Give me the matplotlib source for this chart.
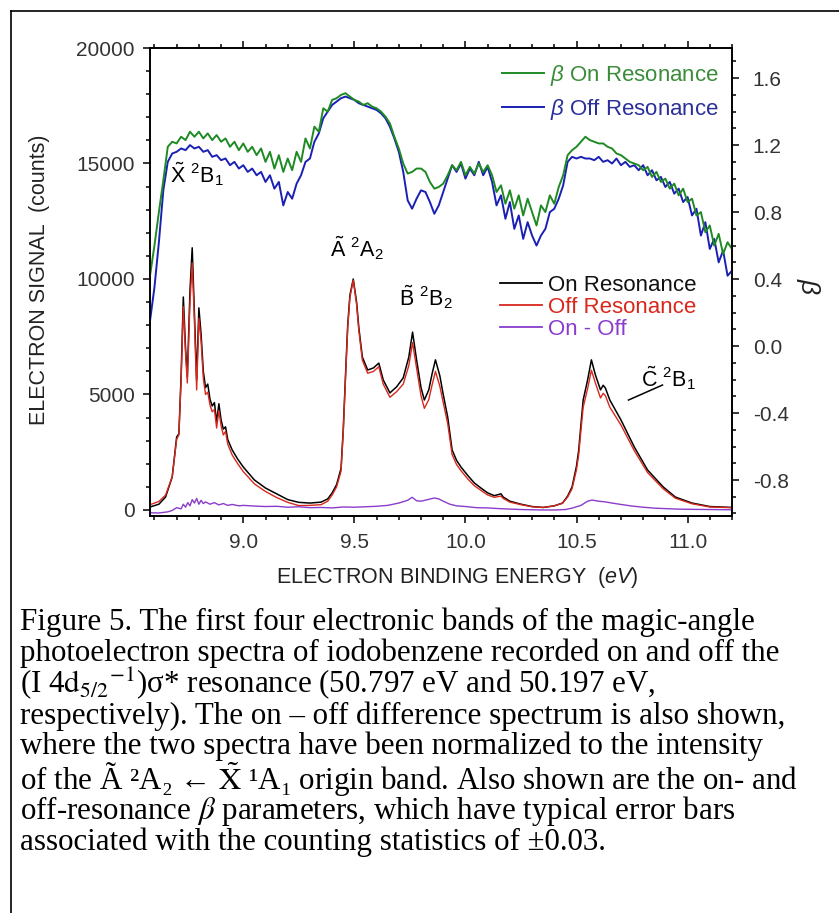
import numpy as np
import matplotlib
matplotlib.use('Agg')
import matplotlib.pyplot as plt
from matplotlib.lines import Line2D
from matplotlib.ticker import MultipleLocator

plt.rcParams['font.family'] = ['Liberation Sans', 'DejaVu Sans']
plt.rcParams['mathtext.fontset'] = 'custom'
plt.rcParams['mathtext.rm'] = 'Liberation Sans'
plt.rcParams['mathtext.it'] = 'Liberation Sans:italic'
plt.rcParams['mathtext.bf'] = 'Liberation Sans:bold'
plt.rcParams['axes.unicode_minus'] = False

# magic-angle spectra (counts)
energy = [8.58, 8.62, 8.65, 8.68, 8.70, 8.71, 8.72, 8.73, 8.74, 8.748,
          8.76, 8.77, 8.78, 8.79, 8.80, 8.81, 8.82, 8.83, 8.84, 8.85,
          8.86, 8.87, 8.88, 8.89, 8.90, 8.91, 8.92, 8.93, 8.95, 8.975,
          9.00, 9.05, 9.10, 9.15, 9.20, 9.25, 9.30, 9.35, 9.38, 9.40,
          9.42, 9.44, 9.45, 9.46, 9.47, 9.48, 9.495, 9.51, 9.52, 9.536,
          9.56, 9.586, 9.61, 9.63, 9.66, 9.69, 9.72, 9.745, 9.762, 9.78,
          9.80, 9.815, 9.835, 9.85, 9.865, 9.885, 9.90, 9.92, 9.94, 9.96,
          9.98, 10.01, 10.04, 10.07, 10.10, 10.13, 10.16, 10.17, 10.20, 10.25,
          10.30, 10.35, 10.40, 10.437, 10.46, 10.48, 10.50, 10.51, 10.52, 10.53,
          10.55, 10.567, 10.585, 10.608, 10.62, 10.63, 10.65, 10.70, 10.76, 10.82,
          10.89, 10.945, 11.02, 11.10, 11.20]
on_res = [130, 250, 560, 1430, 3160, 3300, 5800, 9220, 7000, 5760,
          9500, 11350, 8500, 5630, 8750, 7600, 6000, 5300, 5450, 4800,
          4500, 4650, 3800, 4600, 3900, 3500, 3600, 3050, 2600, 2200,
          1860, 1300, 950, 700, 450, 330, 300, 340, 480, 740,
          1100, 1800, 3500, 5800, 8000, 9300, 10000, 9000, 7900, 6620,
          6060, 6150, 6360, 5630, 5070, 5330, 5720, 6620, 7700, 6500,
          5300, 4760, 5200, 5900, 6500, 5800, 5000, 4030, 2600, 2150,
          1860, 1500, 1170, 950, 740, 620, 700, 560, 380, 250,
          150, 110, 180, 300, 600, 1000, 1900, 2600, 3700, 4760,
          5630, 6500, 5850, 5200, 5400, 5280, 4760, 3900, 2730, 1730,
          1000, 560, 300, 150, 110]
off_res = [230, 370, 640, 1440, 3060, 3250, 5600, 8800, 6800, 5500,
           9000, 10700, 8200, 5200, 8300, 7300, 5700, 5000, 5100, 4550,
           4250, 4350, 3550, 4300, 3650, 3250, 3400, 2850, 2380, 2000,
           1660, 1130, 800, 540, 330, 190, 200, 230, 380, 650,
           1000, 1680, 3380, 5680, 7880, 9200, 9950, 8900, 7780, 6480,
           5920, 6000, 6200, 5450, 4880, 5120, 5450, 6250, 7250, 6150,
           4950, 4400, 4780, 5420, 6000, 5350, 4650, 3750, 2400, 1970,
           1700, 1350, 1050, 850, 650, 550, 600, 500, 340, 230,
           140, 110, 180, 290, 560, 920, 1750, 2400, 3450, 4450,
           5250, 6050, 5500, 4850, 5050, 4950, 4450, 3680, 2570, 1620,
           920, 510, 270, 130, 100]

diff_energy = [8.58, 8.62, 8.66, 8.68, 8.70, 8.72, 8.73, 8.74, 8.75, 8.76,
               8.77, 8.78, 8.79, 8.80, 8.81, 8.82, 8.83, 8.85, 8.87, 8.89,
               8.91, 8.93, 8.95, 8.98, 9.00, 9.05, 9.10, 9.15, 9.20, 9.25,
               9.30, 9.35, 9.40, 9.45, 9.50, 9.55, 9.60, 9.65, 9.70, 9.74,
               9.76, 9.78, 9.80, 9.83, 9.86, 9.88, 9.90, 9.93, 9.96, 10.00,
               10.05, 10.10, 10.15, 10.20, 10.25, 10.30, 10.35, 10.40, 10.45, 10.48,
               10.52, 10.55, 10.57, 10.60, 10.63, 10.66, 10.70, 10.75, 10.80, 10.85,
               10.90, 10.95, 11.00, 11.10, 11.20]
on_minus_off = [-120, -130, -80, -20, 100, 50, 250, 120, 320, 180,
                450, 300, 500, 250, 420, 280, 350, 250, 320, 220,
                280, 200, 240, 180, 200, 170, 150, 160, 120, 140,
                100, 110, 90, 130, 120, 140, 160, 200, 300, 420,
                550, 400, 380, 450, 520, 480, 380, 250, 180, 150,
                100, 90, 60, 40, 20, 10, 0, 0, 20, 80,
                200, 380, 430, 380, 350, 300, 240, 170, 120, 80,
                60, 40, 30, 20, 10]

# beta parameters on a 0.02 eV grid from 8.58 to 11.20 eV
beta_energy = np.linspace(8.58, 11.20, 132)
beta_on = [0.42, 0.60, 0.80, 0.99, 1.19, 1.22, 1.21, 1.25, 1.23, 1.28,
           1.25, 1.28, 1.24, 1.27, 1.23, 1.26, 1.22, 1.24, 1.19, 1.22,
           1.17, 1.21, 1.16, 1.19, 1.14, 1.18, 1.10, 1.16, 1.06, 1.14,
           1.04, 1.12, 1.05, 1.16, 1.10, 1.24, 1.18, 1.31, 1.28, 1.42,
           1.40, 1.47, 1.48, 1.50, 1.51, 1.49, 1.47, 1.46, 1.44, 1.45,
           1.43, 1.42, 1.40, 1.37, 1.33, 1.25, 1.18, 1.09, 1.03, 1.04,
           1.06, 1.06, 1.04, 0.98, 0.94, 0.95, 0.97, 1.02, 1.08, 1.05,
           1.10, 1.02, 1.07, 1.03, 1.09, 1.04, 1.08, 1.02, 0.92, 0.96,
           0.85, 0.93, 0.82, 0.90, 0.78, 0.88, 0.80, 0.72, 0.84, 0.80,
           0.90, 0.85, 0.95, 1.02, 1.14, 1.17, 1.19, 1.22, 1.25, 1.23,
           1.22, 1.21, 1.21, 1.19, 1.18, 1.15, 1.14, 1.12, 1.10, 1.09,
           1.08, 1.05, 1.07, 1.01, 1.04, 0.98, 1.00, 0.94, 0.97, 0.90,
           0.94, 0.86, 0.88, 0.78, 0.80, 0.68, 0.72, 0.60, 0.67, 0.55,
           0.62, 0.58]
beta_off = [0.15, 0.35, 0.62, 0.93, 1.10, 1.15, 1.16, 1.18, 1.17, 1.20,
            1.18, 1.19, 1.16, 1.17, 1.13, 1.14, 1.11, 1.12, 1.08, 1.10,
            1.06, 1.08, 1.04, 1.06, 1.02, 1.04, 0.98, 1.02, 0.94, 0.98,
            0.84, 0.92, 0.88, 0.97, 1.02, 1.10, 1.12, 1.22, 1.27, 1.36,
            1.40, 1.44, 1.46, 1.48, 1.49, 1.48, 1.47, 1.45, 1.44, 1.43,
            1.42, 1.41, 1.39, 1.36, 1.31, 1.24, 1.16, 1.04, 0.87, 0.82,
            0.88, 0.93, 0.92, 0.86, 0.79, 0.84, 0.92, 1.00, 1.08, 1.04,
            1.09, 1.00, 1.06, 1.02, 1.10, 1.02, 1.07, 0.98, 0.84, 0.90,
            0.76, 0.86, 0.70, 0.78, 0.64, 0.74, 0.66, 0.60, 0.66, 0.70,
            0.80, 0.82, 0.88, 0.96, 1.10, 1.13, 1.12, 1.13, 1.12, 1.12,
            1.11, 1.13, 1.10, 1.11, 1.09, 1.12, 1.08, 1.10, 1.07, 1.08,
            1.05, 1.08, 1.02, 1.05, 0.99, 1.01, 0.95, 0.98, 0.91, 0.94,
            0.86, 0.89, 0.78, 0.82, 0.66, 0.74, 0.58, 0.64, 0.50, 0.57,
            0.42, 0.45]

caption = [
    "Figure 5. The first four electronic bands of the magic-angle",
    "photoelectron spectra of iodobenzene recorded on and off the",
    r"(I 4$\mathrm{d}_{5/2}{}^{-1}$)σ* resonance (50.797 eV and 50.197 eV,",
    "respectively). The on \u2013 off difference spectrum is also shown,",
    "where the two spectra have been normalized to the intensity",
    "of the \u00c3 \u00b2A\u2082 \u2190 " + r"$\tilde{\mathrm{X}}$" + " \u00b9A\u2081 origin band. Also shown are the on- and",
    r"off-resonance $\beta$ parameters, which have typical error bars",
    "associated with the counting statistics of \u00b10.03.",
]
caption_baselines = [630, 661, 693, 724, 754, 789, 819, 850]

W, H = 839, 913
fig = plt.figure(figsize=(W / 100, H / 100), dpi=100)
ax = fig.add_axes([150 / W, 1 - 516 / H, 582 / W, 468 / H])

ax.plot(energy, on_res, color='black', lw=1.1, zorder=2)
ax.plot(energy, off_res, color='#d8281c', lw=1.0, zorder=3)
ax.plot(diff_energy, on_minus_off, color='#8b3ccc', lw=1.0, zorder=4)

ax2 = ax.twinx()
hb_off, = ax2.plot(beta_energy, beta_off, color='#1a20b4', lw=1.4)
hb_on, = ax2.plot(beta_energy, beta_on, color='#1f8a24', lw=1.4)

ax.set_xlim(8.58, 11.2)
ax.set_ylim(-260, 20000)
ax2.set_ylim(-1.015, 1.78)

ax.xaxis.set_major_locator(MultipleLocator(0.5))
ax.xaxis.set_minor_locator(MultipleLocator(0.1))
ax.yaxis.set_major_locator(MultipleLocator(5000))
ax.yaxis.set_minor_locator(MultipleLocator(1000))
ax2.yaxis.set_major_locator(MultipleLocator(0.4))
ax2.yaxis.set_minor_locator(MultipleLocator(0.1))

tick_col = '#333333'
ax.tick_params(axis='x', which='both', direction='out', top=True, labelsize=15,
               labelcolor=tick_col, pad=7)
ax.tick_params(axis='y', which='both', direction='out', right=False, labelsize=15,
               labelcolor=tick_col, pad=6)
ax2.tick_params(axis='y', which='both', direction='out', labelsize=15,
                labelcolor=tick_col, pad=10)
for a in (ax, ax2):
    a.tick_params(which='major', length=5, width=1.1)
    a.tick_params(which='minor', length=3, width=1.1)
    for s in a.spines.values():
        s.set_linewidth(1.2)

# band labels
lab_fs = 15.5
ax.text(8.67, 14550, r'$\tilde{\mathrm{X}}\ {}^{2}\mathrm{B}_{1}$', fontsize=lab_fs, va='center')
ax.text(9.39, 11350, r'$\tilde{\mathrm{A}}\ {}^{2}\mathrm{A}_{2}$', fontsize=lab_fs, va='center')
ax.text(9.70, 9220, r'$\tilde{\mathrm{B}}\ {}^{2}\mathrm{B}_{2}$', fontsize=lab_fs, va='center')
ax.text(10.79, 5720, r'$\tilde{\mathrm{C}}\ {}^{2}\mathrm{B}_{1}$', fontsize=lab_fs, va='center')
ax.plot([10.734, 10.887], [4760, 5410], color='black', lw=1.1)

leg1 = ax2.legend([hb_on, hb_off], [r'$\beta$ On Resonance', r'$\beta$ Off Resonance'],
                  loc='upper left', bbox_to_anchor=(0.605, 0.968), frameon=False,
                  fontsize=16, handlelength=1.9, handletextpad=0.25, labelspacing=0.4,
                  borderpad=0, borderaxespad=0, labelcolor=['#3a8c3a', '#2a2f9a'])
ax2.add_artist(leg1)
h_on = Line2D([], [], color='black', lw=1.3)
h_off = Line2D([], [], color='#d8281c', lw=1.3)
h_diff = Line2D([], [], color='#8b3ccc', lw=1.3)
ax2.legend([h_on, h_off, h_diff], ['On Resonance', 'Off Resonance', 'On - Off'],
           loc='upper left', bbox_to_anchor=(0.601, 0.515), frameon=False,
           fontsize=16, handlelength=1.9, handletextpad=0.25, labelspacing=0.05,
           borderpad=0, borderaxespad=0, labelcolor=['#111111', '#d8281c', '#8b3ccc'])

fig.text(40 / W, 1 - 280 / H, 'ELECTRON SIGNAL  (counts)', rotation=90,
         ha='center', va='center', fontsize=15.5, color='#222222')
fig.text(457 / W, 1 - 577 / H, r'ELECTRON BINDING ENERGY  ($\mathit{eV}$)',
         ha='center', va='center', fontsize=15.5, color='#222222')
fig.text(808 / W, 1 - 287 / H, r'$\beta$', rotation=270, ha='center', va='center',
         fontsize=19, color='#222222')

# caption, one text per line, placed by baseline
for line, yb in zip(caption, caption_baselines):
    fig.text(20 / W, 1 - yb / H, line, ha='left', va='baseline', fontsize=22.3,
             family=['Liberation Serif', 'DejaVu Serif'], math_fontfamily='stix')

fig.add_artist(Line2D([11 / W, 1], [1 - 11 / H, 1 - 11 / H], transform=fig.transFigure,
                      color='black', lw=1.2))
fig.add_artist(Line2D([11 / W, 11 / W], [0, 1 - 11 / H], transform=fig.transFigure,
                      color='black', lw=1.2))

fig.savefig('out.png', dpi=100)
